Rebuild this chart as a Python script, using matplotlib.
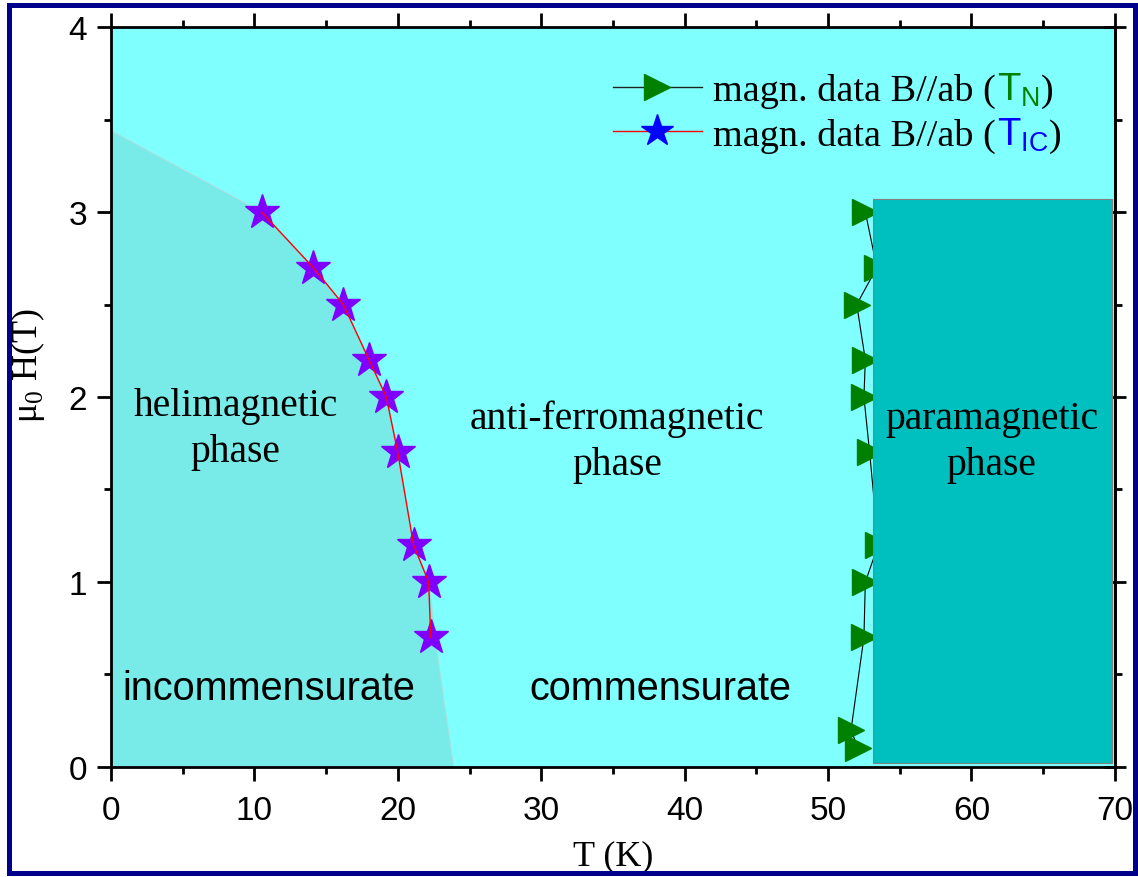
import matplotlib
matplotlib.use('Agg')
import matplotlib.pyplot as plt
from matplotlib.lines import Line2D
from matplotlib.patches import Rectangle
from matplotlib.ticker import MultipleLocator
from matplotlib.transforms import IdentityTransform

# T_IC points (stars)
ic_T = [10.5, 14.1, 16.2, 18.0, 19.2, 20.0, 21.1, 22.15, 22.3]
ic_H = [3.0, 2.7, 2.5, 2.2, 2.0, 1.7, 1.2, 1.0, 0.7]

# T_N points (triangles)
n_T = [52.6, 53.4, 52.0, 52.6, 52.5, 52.9, 53.5, 52.6, 52.5, 51.6, 52.1]
n_H = [3.0, 2.7, 2.5, 2.2, 2.0, 1.7, 1.2, 1.0, 0.7, 0.2, 0.1]

# incommensurate region outline
inc_T = [0, 0, 10.5, 14.1, 16.2, 18.0, 19.2, 20.0, 21.1, 22.2, 22.6, 23.2, 23.9]
inc_H = [0, 3.44, 3.0, 2.7, 2.5, 2.2, 2.0, 1.7, 1.2, 1.0, 0.7, 0.37, 0]

# paramagnetic block (T range, H range)
para_T = [53.1, 69.8]
para_H = [0.02, 3.07]

serif = 'Liberation Serif'
sans = 'Liberation Sans'

# tick labels use font.family
plt.rcParams['font.family'] = ['Liberation Sans Narrow', sans]
plt.rcParams['xtick.labelsize'] = 24
plt.rcParams['ytick.labelsize'] = 24
plt.rcParams['axes.linewidth'] = 2

fig = plt.figure(figsize=(11.38, 8.78), dpi=100)
ax = fig.add_axes([0.0975, 0.1253, 0.8822, 0.8428])
ax.set_facecolor('#80FFFF')

# phase regions
ax.fill(inc_T, inc_H, color='#78EBE8', ec='#A8E0E0', lw=0.8, zorder=1)
ax.add_patch(Rectangle((para_T[0], para_H[0]), para_T[1] - para_T[0], para_H[1] - para_H[0],
                       fc='#00BFBF', ec='#808080', lw=0.8, zorder=4))

# T_N data (under the block)
ax.plot(n_T, n_H, color='black', lw=0.8, zorder=2)
ax.plot(n_T, n_H, ls='none', marker='>', ms=19, mfc='#008000', mec='#008000', zorder=3)

# T_IC data
ax.plot(ic_T, ic_H, ls='none', marker='*', ms=26, mfc='#7F00FF', mec='#7F00FF', zorder=5)
ax.plot(ic_T, ic_H, color='red', lw=1, zorder=6)

# labels in the regions
ax.text(8.7, 1.83, 'helimagnetic\nphase', family=serif, size=28.5, ha='center', va='center',
        linespacing=1.3, zorder=7)
ax.text(35.3, 1.76, 'anti-ferromagnetic\nphase', family=serif, size=28.5, ha='center',
        va='center', linespacing=1.3, zorder=7)
ax.text(61.4, 1.76, 'paramagnetic\nphase', family=serif, size=28.5, ha='center', va='center',
        linespacing=1.3, zorder=7)
ax.text(11.0, 0.37, 'incommensurate', family=sans, size=28.5, ha='center', va='baseline',
        zorder=7)
ax.text(38.3, 0.37, 'commensurate', family=sans, size=28.5, ha='center', va='baseline',
        zorder=7)

# axes
ax.set_xlim(0, 70)
ax.set_ylim(0, 4)
ax.xaxis.set_major_locator(MultipleLocator(10))
ax.xaxis.set_minor_locator(MultipleLocator(5))
ax.yaxis.set_major_locator(MultipleLocator(1))
ax.yaxis.set_minor_locator(MultipleLocator(0.5))
ax.tick_params(which='both', direction='out', top=True, right=False, width=2)
ax.tick_params(which='major', length=10, pad=7)
ax.tick_params(which='minor', length=5)
ax.tick_params(axis='x', pad=10)

sec = ax.secondary_yaxis('right')
sec.yaxis.set_major_locator(MultipleLocator(1))
sec.yaxis.set_minor_locator(MultipleLocator(0.5))
sec.tick_params(which='major', direction='inout', length=16, width=2, labelright=False)
sec.tick_params(which='minor', direction='out', length=5, width=2)

ax.set_xlabel('T (K)', family=serif, size=26)
ax.xaxis.set_label_coords(0.5, -0.098)
ax.xaxis.label.set_va('top')
ax.set_ylabel('μ$_\\mathregular{0}$ H(T)', family=serif, size=26)
ax.yaxis.set_label_coords(-0.064, 0.544)

# legend
h1 = Line2D([], [], color='#222222', lw=1, marker='>', ms=19, mfc='#008000', mec='#008000')
h2 = Line2D([], [], color='red', lw=1, marker='*', ms=24, mfc='#0000FF', mec='#0000FF')
leg = ax.legend([h1, h2], ['magn. data B//ab (', 'magn. data B//ab ('], loc='upper left',
                bbox_to_anchor=(0.5, 0.9378), frameon=False, prop={'family': serif, 'size': 27.5},
                handlelength=2.33, handletextpad=0.29, labelspacing=0.25, borderpad=0,
                borderaxespad=0)

# coloured T_N / T_IC parts after each legend text
fig.canvas.draw()
r = fig.canvas.get_renderer()
for t, sub, col in zip(leg.get_texts(), ['N', 'IC'], ['#008000', '#0000FF']):
    bb = t.get_window_extent(r)
    x0, y0 = t.get_transform().transform(t.get_position())
    t2 = fig.text(bb.x1 + 1, y0, 'T$_\\mathregular{%s}$' % sub, transform=IdentityTransform(),
                  color=col, family=sans, size=27.5, va='baseline')
    bb2 = t2.get_window_extent(r)
    fig.text(bb2.x1 + 1, y0, ')', transform=IdentityTransform(), family=serif, size=27.5,
             va='baseline')

# frame round the figure
fig.add_artist(Rectangle((0.0075, 0.004), 0.9903, 0.9897, transform=fig.transFigure,
                         fill=False, ec='#00008B', lw=3.6))

fig.savefig('out.png', dpi=100)
plt.close()
